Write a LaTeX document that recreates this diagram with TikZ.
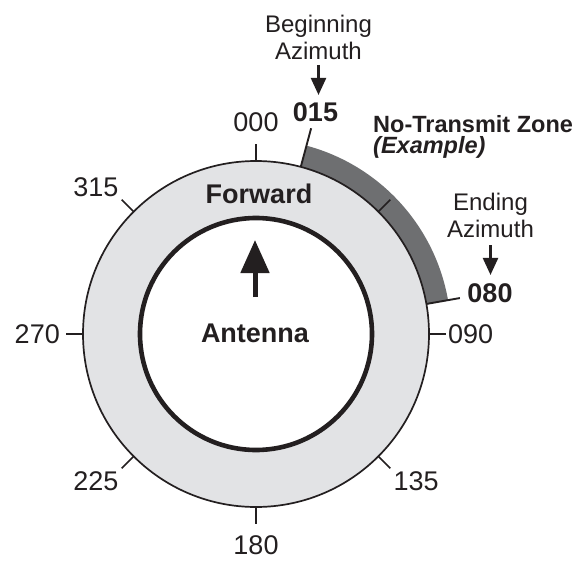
\documentclass[tikz,border=0pt]{standalone}
\usepackage{fontspec}
\setmainfont{Liberation Sans}
\usetikzlibrary{arrows.meta,positioning,calc}
\definecolor{ringgray}{RGB}{226,227,229}
\definecolor{zonegray}{RGB}{110,111,113}
\definecolor{inkblack}{RGB}{35,31,32}

\begin{document}
\begin{tikzpicture}[
  x=1pt, y=1pt,
  font=\fontsize{27}{32}\selectfont,
  >={Triangle[length=17pt,width=15pt]},
  deg/.style={inner sep=#1, text=inkblack},
  bearing/.style={inner sep=0pt, text=inkblack, font=\fontsize{27}{32}\selectfont\bfseries},
  callout/.style={inner sep=0pt, align=center, text=inkblack, font=\fontsize{24}{27}\selectfont},
  tick/.style={draw=inkblack, line width=1.6pt},
  edge/.style={draw=inkblack, line width=1.9pt},
  ptr/.style={->, draw=inkblack, line width=2.4pt}
]

% Geometry
\def\rin{116}
\def\rout{173}
\def\rtick{190}
\def\rband{195}
\useasboundingbox (-256,-226) rectangle (324,334);
\coordinate (ctr) at (0,0);

% Dial ring and no-transmit band
\fill[ringgray] (ctr) circle (\rout);
\fill[zonegray] (75:\rout) arc (75:10:\rout) -- (10:\rband) arc (10:75:\rband) -- cycle;
\draw[inkblack, line width=4.6pt, fill=white] (ctr) circle (\rin);
\draw[inkblack, line width=1.7pt] (ctr) circle (\rout);

% Ticks every 45 degrees
\foreach \az in {0,45,...,315}{
  \draw[tick] ({90-\az}:\rout) -- ({90-\az}:\rtick);
}

% Azimuth labels
\foreach \az/\lbl/\anc/\sep in {0/000/south/12pt, 90/090/west/2pt, 135/135/north west/3pt, 180/180/north/11.5pt, 225/225/north east/3pt, 270/270/east/6pt, 315/315/south east/3pt}{
  \node[deg=\sep, anchor=\anc] (d\lbl) at ({90-\az}:\rtick) {\lbl};
}

% Zone limits
\draw[edge] (75:\rout) -- (75:213);
\draw[edge] (10:\rout) -- (10:207);

% Antenna
\node[bearing, anchor=base] (fwd) at (3,131) {Forward};
\node[bearing, anchor=base] (ant) at (-1,-8) {Antenna};
\coordinate (atail) at (-1,37);
\coordinate (ahead) at (-1,94);
\draw[-{Triangle[length=33pt,width=28pt]}, draw=inkblack, line width=5pt] (atail) -- (ahead);

% Beginning azimuth
\node[callout, anchor=south] (begaz) at (62.5,274) {Beginning\\Azimuth};
\node[bearing, anchor=base] (n015) at (59.5,212) {015};
\draw[ptr] ([yshift=-5pt]begaz.south) -- ([yshift=8pt]begaz.south |- n015.north);

% Ending azimuth
\node[callout, anchor=south] (endaz) at (234.5,96) {Ending\\Azimuth};
\node[bearing, anchor=base] (n080) at (234,32) {080};
\draw[ptr] ([yshift=-7pt]endaz.south) -- ([yshift=8pt]endaz.south |- n080.north);

% Zone caption
\node[callout, align=left, anchor=north west, font=\fontsize{23.5}{21.5}\selectfont\bfseries] (zone) at (117,219) {No-Transmit Zone\\\textit{(Example)}};

\end{tikzpicture}
\end{document}
